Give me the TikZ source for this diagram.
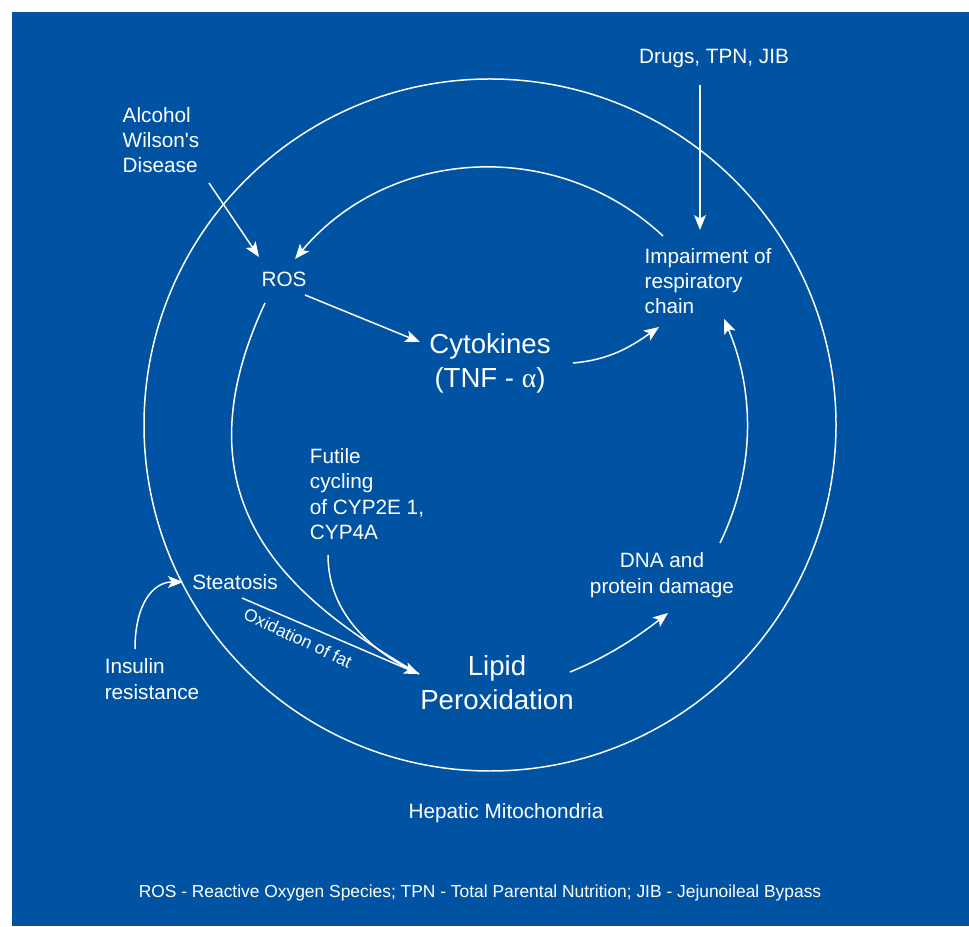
\documentclass[tikz,border=0pt]{standalone}
\usepackage{fontspec}
\setmainfont{Liberation Sans}
\newfontfamily\greekfont{Liberation Serif}
\usetikzlibrary{arrows.meta}
\definecolor{mitoblue}{RGB}{0,82,163}

\begin{document}
\begin{tikzpicture}[x=0.02cm,y=0.02cm,
      lbl/.style={text=white,inner sep=0pt,align=left,font=\fontsize{11.8}{14.4}\selectfont},
      big/.style={text=white,inner sep=0pt,align=center,font=\fontsize{15.7}{19.3}\selectfont},
      ln/.style={draw=white,line width=0.85pt},
      arr/.style={ln,-{Stealth[length=8.5pt,width=6.8pt,inset=2pt]}}]
   \useasboundingbox (0,0) rectangle (969,926);
   \fill[mitoblue] (12,0) rectangle (969,914);
   \draw[ln] (490,501) circle[radius=346];

   \node[lbl] (drugs) at (714,867) {Drugs, TPN, JIB};
   \node[lbl] (alcohol) at (161,786) {Alcohol\\Wilson\textquotesingle s\\Disease};
   \node[lbl] (ros) at (284,647) {ROS};
   \node[big] (cyto) at (490,563) {Cytokines\\(TNF - {\greekfont α})};
   \node[lbl] (imp) at (708,645) {Impairment of\\respiratory\\chain};
   \node[lbl] (futile) at (367,432) {Futile\\cycling\\of CYP2E 1,\\CYP4A};
   \node[lbl] (steat) at (235,344) {Steatosis};
   \node[big] (lipid) at (497,243) {Lipid\\Peroxidation};
   \node[lbl,align=center] (dna) at (662,351) {DNA and\\protein damage};
   \node[lbl] (insulin) at (152,247) {Insulin\\resistance};
   \node[lbl] (hepatic) at (506,113) {Hepatic Mitochondria};
   \node[lbl,font=\fontsize{9.9}{12}\selectfont] (key) at (480,33)
      {ROS - Reactive Oxygen Species; TPN - Total Parental Nutrition; JIB - Jejunoileal Bypass};
   \node[lbl,rotate=-25,font=\fontsize{9.9}{12}\selectfont] (oxid) at (298,288) {Oxidation of fat};

   \draw[arr] ([shift={(48,-43)}]alcohol.center) -- ([shift={(-25,22)}]ros.center);
   \draw[arr] ([shift={(-14,-26)}]drugs.center) -- ([shift={(-8,51)}]imp.center);
   \draw[arr] ([shift={(21,-16)}]ros.center) -- ([shift={(-70,21)}]cyto.center);
   \draw[arr] ([shift={(-45,45)}]imp.center) .. controls +(137:146) and +(50:146) .. ([shift={(11,20)}]ros.center);
   \draw[arr] ([shift={(83,0)}]cyto.center) .. controls +(5:36) and +(215:36) .. ([shift={(-49,-46)}]imp.center);
   \draw[arr] ([shift={(73,11)}]lipid.center) .. controls +(22:40) and +(218:40) .. ([shift={(6,-38)}]dna.center);
   \draw[arr] ([shift={(58,32)}]dna.center) .. controls +(64:80) and +(-67:80) .. ([shift={(16,-38)}]imp.center);
   \draw[ln] ([shift={(-19,-24)}]ros.center) .. controls +(245:220) and +(150:150) .. ([shift={(-78,9)}]lipid.center);
   \draw[ln] ([shift={(-39,-61)}]futile.center) .. controls +(270:60) and +(155:50) .. ([shift={(-78,9)}]lipid.center);
   \draw[arr] ([shift={(7,-16)}]steat.center) -- ([shift={(-78,9)}]lipid.center);
   \draw[arr] ([shift={(-17,30)}]insulin.center) .. controls +(90:45) and +(180:30) .. ([shift={(-52,0)}]steat.center);
\end{tikzpicture}
\end{document}
